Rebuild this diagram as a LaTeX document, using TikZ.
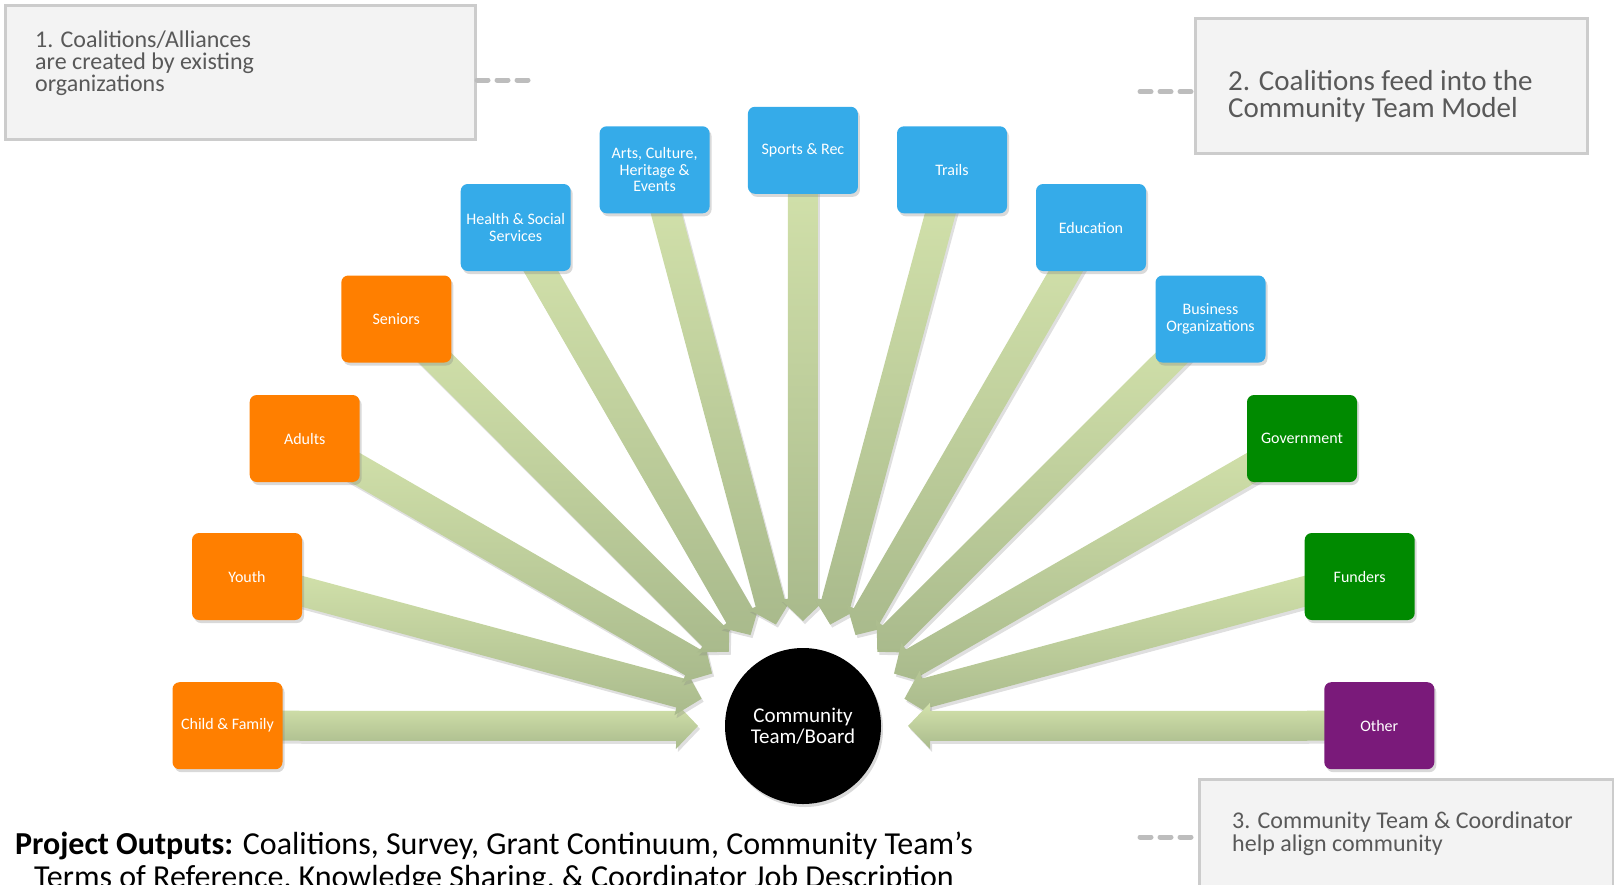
\documentclass[tikz,border=0pt]{standalone}
\usepackage{fontspec}
\setmainfont{Carlito}
\usetikzlibrary{calc,shadows,backgrounds}
\definecolor{orangeb}{HTML}{FF7F00}
\definecolor{blueb}{HTML}{35ABE9}
\definecolor{greenb}{HTML}{008A00}
\definecolor{purpleb}{HTML}{7A1A7A}
\definecolor{arrlight}{HTML}{D4E3AC}
\definecolor{arrdark}{HTML}{A9BA8C}
\definecolor{callfill}{HTML}{F3F3F3}
\definecolor{callline}{HTML}{CCCCCC}
\definecolor{calltext}{HTML}{595959}
\definecolor{dashc}{HTML}{BDBDBD}
\tikzset{
  box/.style={rounded corners=7pt, minimum width=110pt, minimum height=87pt,
    text=white, align=center, font=\fontsize{16}{16.5}\selectfont, inner sep=2pt,
    drop shadow={shadow xshift=2pt, shadow yshift=-3pt, opacity=0.3}},
  orangebox/.style={box, fill=orangeb},
  bluebox/.style={box, fill=blueb},
  greenbox/.style={box, fill=greenb},
  purplebox/.style={box, fill=purpleb},
  arrowfill/.style={top color=arrlight, bottom color=arrdark,
    drop shadow={shadow xshift=2pt, shadow yshift=-3pt, opacity=0.25}},
  callout/.style={draw=callline, line width=3pt, fill=callfill},
  calltxt/.style={anchor=north west, inner sep=0pt, text=calltext, align=left},
  dashline/.style={draw=dashc, line width=5pt, line cap=round, dash pattern=on 11pt off 9pt},
}
\newcommand\flowarrow[1]{%
  \coordinate (t#1) at ($(C)!105pt!(#1)$);
  \coordinate (b#1) at ($(t#1)!22pt!(#1)$);
  \path[arrowfill] ($(#1)!15pt!90:(t#1)$) -- ($(b#1)!15pt!-90:(#1)$) -- ($(b#1)!23pt!-90:(#1)$)
    -- (t#1) -- ($(b#1)!23pt!90:(#1)$) -- ($(b#1)!15pt!90:(#1)$) -- ($(#1)!15pt!-90:(t#1)$) -- cycle;
}
\begin{document}
\begin{tikzpicture}[x=1pt,y=-1pt]
\useasboundingbox (0,0) rectangle (1614,884);
\clip (0,0) rectangle (1614,884);
% centre
\node[circle, fill=black, minimum size=156pt, inner sep=0pt, text=white, align=center,
  font=\fontsize{21}{21}\selectfont,
  drop shadow={shadow xshift=2pt, shadow yshift=-3pt, opacity=0.3}] (C) at (803,726) {Community\\Team/Board};
% boxes
\node[orangebox] (cf) at (227.5,725.7) {Child \& Family};
\node[orangebox] (yo) at (247,576.5) {Youth};
\node[orangebox] (ad) at (304.7,438.5) {Adults};
\node[orangebox] (se) at (396.3,319) {Seniors};
\node[bluebox] (hs) at (515.7,227.5) {Health \& Social\\Services};
\node[bluebox] (ar) at (654.6,169.8) {Arts, Culture,\\Heritage \&\\Events};
\node[bluebox] (sp) at (802.9,150.3) {Sports \& Rec};
\node[bluebox] (tr) at (952,169.8) {Trails};
\node[bluebox] (ed) at (1091,227.5) {Education};
\node[bluebox] (bo) at (1210.5,319) {Business\\Organizations};
\node[greenbox] (go) at (1302,438.5) {Government};
\node[greenbox] (fu) at (1359.7,576.5) {Funders};
\node[purplebox] (ot) at (1379.3,725.7) {Other};
% arrows
\begin{scope}[on background layer]
\foreach \n in {cf,yo,ad,se,hs,ar,sp,tr,ed,bo,go,fu,ot}{\flowarrow{\n}}
\end{scope}
% callouts
\node[callout, minimum width=470pt, minimum height=134pt, anchor=north west] (c1) at (4,4) {};
\node[calltxt, font=\fontsize{24}{22}\selectfont] (c1t) at (35,31) {1. Coalitions/Alliances\\are created by existing\\organizations};
\coordinate (d1) at (533,80);
\draw[dashline] (c1.east |- d1) -- (d1);
\node[callout, minimum width=392pt, minimum height=135pt, anchor=north west] (c2) at (1194,17) {};
\node[calltxt, font=\fontsize{29}{27}\selectfont] (c2t) at (1228,70) {2. Coalitions feed into the\\Community Team Model};
\coordinate (d2) at (1140,91.6);
\draw[dashline] (d2) -- (c2.west |- d2);
\node[callout, minimum width=414pt, minimum height=140pt, anchor=north west] (c3) at (1198,778) {};
\node[calltxt, font=\fontsize{24}{23}\selectfont] (c3t) at (1232,812) {3. Community Team \& Coordinator\\help align community};
\coordinate (d3) at (1140,837);
\draw[dashline] (d3) -- (c3.west |- d3);
% outputs
\node[align=center, inner sep=0pt, font=\fontsize{32}{33}\selectfont, anchor=north] (po) at (494,832)
  {\textbf{Project Outputs:} Coalitions, Survey, Grant Continuum, Community Team’s\\Terms of Reference, Knowledge Sharing, \& Coordinator Job Description};
\end{tikzpicture}
\end{document}
